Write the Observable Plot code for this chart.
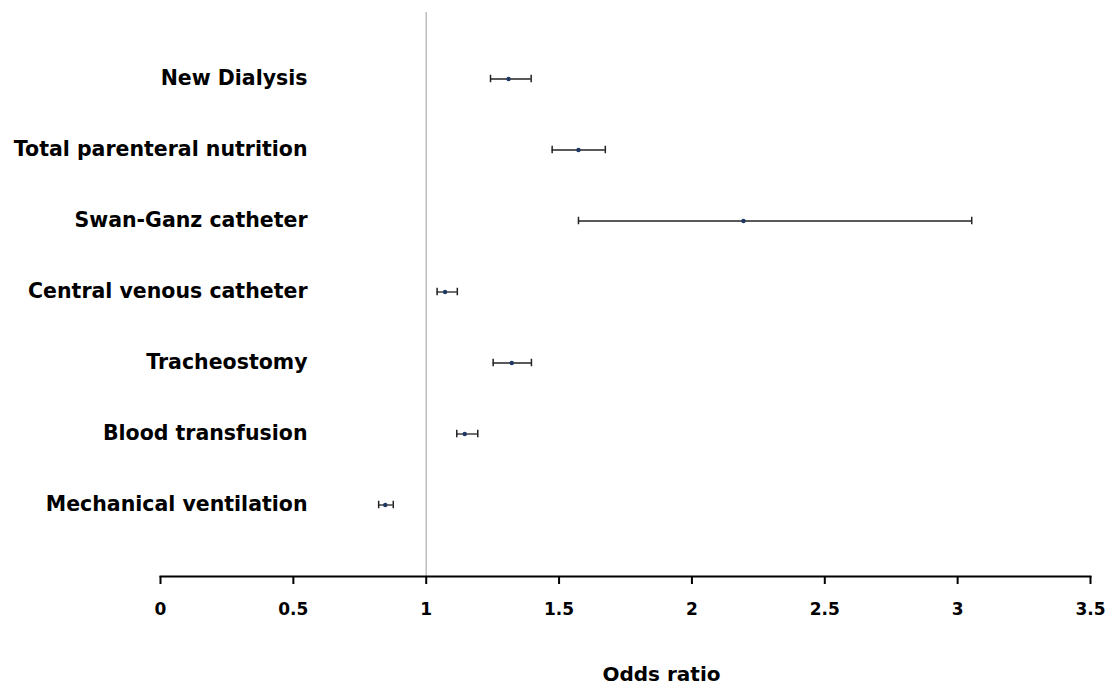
<!DOCTYPE html>
<html>
<head>
<meta charset="utf-8">
<script src="https://cdn.jsdelivr.net/npm/d3@7"></script>
<script src="https://cdn.jsdelivr.net/npm/@observablehq/plot@0.6"></script>
<style>
  html, body { margin: 0; padding: 0; background: #fff; }
  #chart svg { display: block; }
</style>
</head>
<body>
<div id="chart"></div>
<script>
const labels = ["New Dialysis", "Total parenteral nutrition", "Swan-Ganz catheter", "Central venous catheter", "Tracheostomy", "Blood transfusion", "Mechanical ventilation"];
const oddsRatio = [1.31, 1.573, 2.194, 1.071, 1.322, 1.145, 0.846];
const ciLow     = [1.242, 1.474, 1.573, 1.041, 1.252, 1.115, 0.821];
const ciHigh    = [1.395, 1.674, 3.053, 1.117, 1.396, 1.194, 0.876];
const xTicks = [0, 0.5, 1, 1.5, 2, 2.5, 3, 3.5];
const xLabel = "Odds ratio";

const data = labels.map((name, i) => ({name, or: oddsRatio[i], lo: ciLow[i], hi: ciHigh[i]}));

const font = "'DejaVu Sans', Verdana, sans-serif";
const capInset = 35.75 - 4;

const chart = Plot.plot({
  width: 1109,
  height: 685,
  marginLeft: 160,
  marginRight: 19,
  marginTop: 12,
  marginBottom: 109,
  style: {fontFamily: font, background: "#fff", color: "#000"},
  x: {domain: [0, 3.5]},
  y: {type: "band", domain: labels, padding: 0, insetTop: 29.25, insetBottom: 34.25},
  marks: [
    Plot.ruleX([1], {stroke: "#bfbfbf", strokeWidth: 1.5}),
    Plot.frame({anchor: "bottom", stroke: "#000", strokeWidth: 2}),
    Plot.axisX({ticks: xTicks, tickFormat: d => String(d), tickSize: 8, tickPadding: 18,
      strokeWidth: 2, fontSize: 17, fontWeight: "bold", label: null}),
    Plot.axisY({tickSize: 0, tickPadding: 0, dx: 147, dy: -1, fontSize: 20.5, fontWeight: "bold", label: null}),
    Plot.ruleY(data, {y: "name", x1: "lo", x2: "hi", stroke: "#222", strokeWidth: 1.3}),
    Plot.tickX(data, {x: "lo", y: "name", stroke: "#222", strokeWidth: 1.5, insetTop: capInset, insetBottom: capInset}),
    Plot.tickX(data, {x: "hi", y: "name", stroke: "#222", strokeWidth: 1.5, insetTop: capInset, insetBottom: capInset}),
    Plot.dot(data, {x: "or", y: "name", r: 2.2, fill: "#1f3864", stroke: null}),
    Plot.text([xLabel], {frameAnchor: "bottom", dx: 36, dy: 104, fontSize: 20, fontWeight: "bold", lineAnchor: "bottom", fill: "#000"})
  ]
});
document.getElementById("chart").appendChild(chart);
</script>
</body>
</html>
